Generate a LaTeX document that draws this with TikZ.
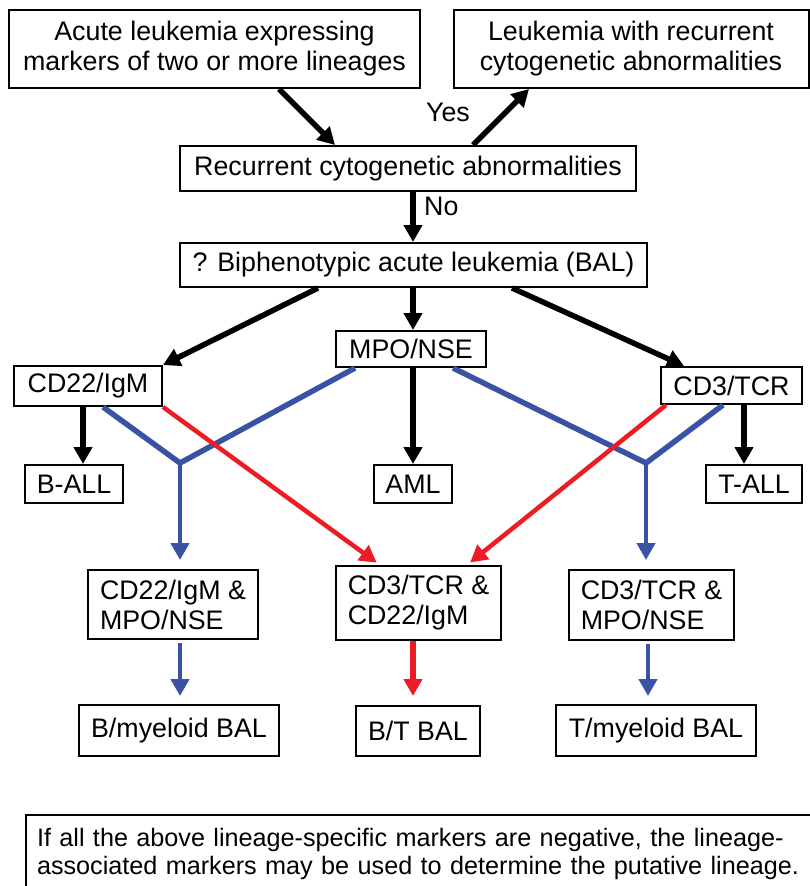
\documentclass[tikz,border=0pt]{standalone}
\usepackage{fontspec}
\setmainfont{Liberation Sans}
\usetikzlibrary{arrows.meta}
\definecolor{balblue}{RGB}{57,83,164}
\definecolor{balred}{RGB}{237,28,36}
\newcommand{\boxfont}{\fontsize{26.8}{30}\selectfont}
\newcommand{\notefont}{\fontsize{25.2}{28}\selectfont}
\tikzset{
  box/.style={draw, line width=2pt, inner sep=0pt, font=\boxfont, align=center},
  lbox/.style={box, align=left},
  tip/.style={-{Triangle[length=17pt,width=18pt]}},
  blk/.style={tip, line width=5.5pt},
  bln/.style={balblue, line width=5.5pt},
  blu/.style={tip, bln},
  rd/.style={tip, balred, line width=4.5pt},
}

\begin{document}
\begin{tikzpicture}[x=1pt, y=-1pt]
            \useasboundingbox (0,0) rectangle (810,886);
            \clip (0,0) rectangle (810,886);

            %Nodes
            \node[box, minimum width=411, minimum height=78] at (214.5,49) (acute) {Acute leukemia expressing\\markers of two or more lineages};
            \node[box, minimum width=355, minimum height=78] at (631,49) (recur) {Leukemia with recurrent\\cytogenetic abnormalities};
            \node[box, minimum width=456, minimum height=45] at (408,168.5) (cyto) {Recurrent cytogenetic abnormalities};
            \node[box, minimum width=467, minimum height=44] at (413.5,265) (bal) {? Biphenotypic acute leukemia (BAL)};
            \node[font=\boxfont] at (448,112) (yes) {Yes};
            \node[font=\boxfont, anchor=west, inner sep=0pt] at (424,206) (no) {No};

            \node[box, minimum width=150, minimum height=36] at (411,349) (mpo) {MPO/NSE};
            \node[box, minimum width=148, minimum height=40] at (88,386) (cdb) {CD22/IgM};
            \node[box, minimum width=141, minimum height=37] at (731.5,385.5) (cdt) {CD3/TCR};

            \node[box, minimum width=98, minimum height=38] at (74,484) (ball) {B-ALL};
            \node[box, minimum width=78, minimum height=38] at (413,484) (aml) {AML};
            \node[box, minimum width=96, minimum height=38] at (754,484) (tall) {T-ALL};

            \node[lbox, minimum width=170, minimum height=69] at (173,604.5) (bm) {CD22/IgM \&\\MPO/NSE};
            \node[lbox, minimum width=165, minimum height=74] at (418.5,603) (bt) {CD3/TCR \&\\CD22/IgM};
            \node[lbox, minimum width=165, minimum height=70] at (651.5,605) (tm) {CD3/TCR \&\\MPO/NSE};

            \node[box, minimum width=200, minimum height=51] at (179,730.5) (bmbal) {B/myeloid BAL};
            \node[box, minimum width=124, minimum height=50] at (418,731) (btbal) {B/T BAL};
            \node[box, minimum width=200, minimum height=51] at (656,730.5) (tmbal) {T/myeloid BAL};

            \node[draw, line width=2pt, anchor=north west, inner xsep=11pt, inner ysep=13pt,
                  text width=790pt, align=left, font=\notefont] at (25,814) (note)
                 {If all the above lineage-specific markers are negative, the lineage-\\associated markers may be used to determine the putative lineage.};

            \coordinate (jl) at (180,463);
            \coordinate (jr) at (646,463);

            %Lines
            \draw[blk] ([xshift=64.5]acute.south) -- ([xshift=-73]cyto.north);
            \draw[blk] ([xshift=65]cyto.north) -- ([xshift=-102]recur.south);
            \draw[blk] ([xshift=5]cyto.south) -- ([xshift=-0.5]bal.north);

            \draw[blk] ([xshift=-95.5]bal.south) -- ([xshift=75]cdb.north);
            \draw[blk] ([xshift=-0.5]bal.south) -- ([xshift=2]mpo.north);
            \draw[blk] ([xshift=98.5]bal.south) -- ([xshift=-47.5]cdt.north);

            \draw[blk] ([xshift=-5]cdb.south) -- ([xshift=9]ball.north);
            \draw[blk] ([xshift=2]mpo.south) -- (aml.north);
            \draw[blk] ([xshift=12.5]cdt.south) -- ([xshift=-10]tall.north);

            \draw[bln] ([xshift=15]cdb.south) -- (jl) -- ([xshift=-56]mpo.south);
            \draw[bln] ([xshift=42]mpo.south) -- (jr) -- ([xshift=-8.5]cdt.south);
            \draw[blu, line width=4.5pt, shorten >=9pt] (jl) -- ([xshift=7]bm.north);
            \draw[blu, line width=4.5pt, shorten >=9pt] (jr) -- ([xshift=-5.5]tm.north);

            \draw[rd, shorten >=4pt] (cdb.south east) -- ([xshift=-38.5]bt.north);
            \draw[rd, shorten >=4pt] ([xshift=-65.5]cdt.south) -- ([xshift=48.5]bt.north);

            \draw[blu, line width=4.5pt, shorten <=3pt, shorten >=8pt] ([xshift=7]bm.south) -- ([xshift=1]bmbal.north);
            \draw[rd, line width=5.5pt, shorten >=9pt] ([xshift=-5.5]bt.south) -- ([xshift=-5]btbal.north);
            \draw[blu, line width=4.5pt, shorten <=3pt, shorten >=8pt] ([xshift=-3.5]tm.south) -- ([xshift=-8]tmbal.north);
        \end{tikzpicture}
\end{document}
